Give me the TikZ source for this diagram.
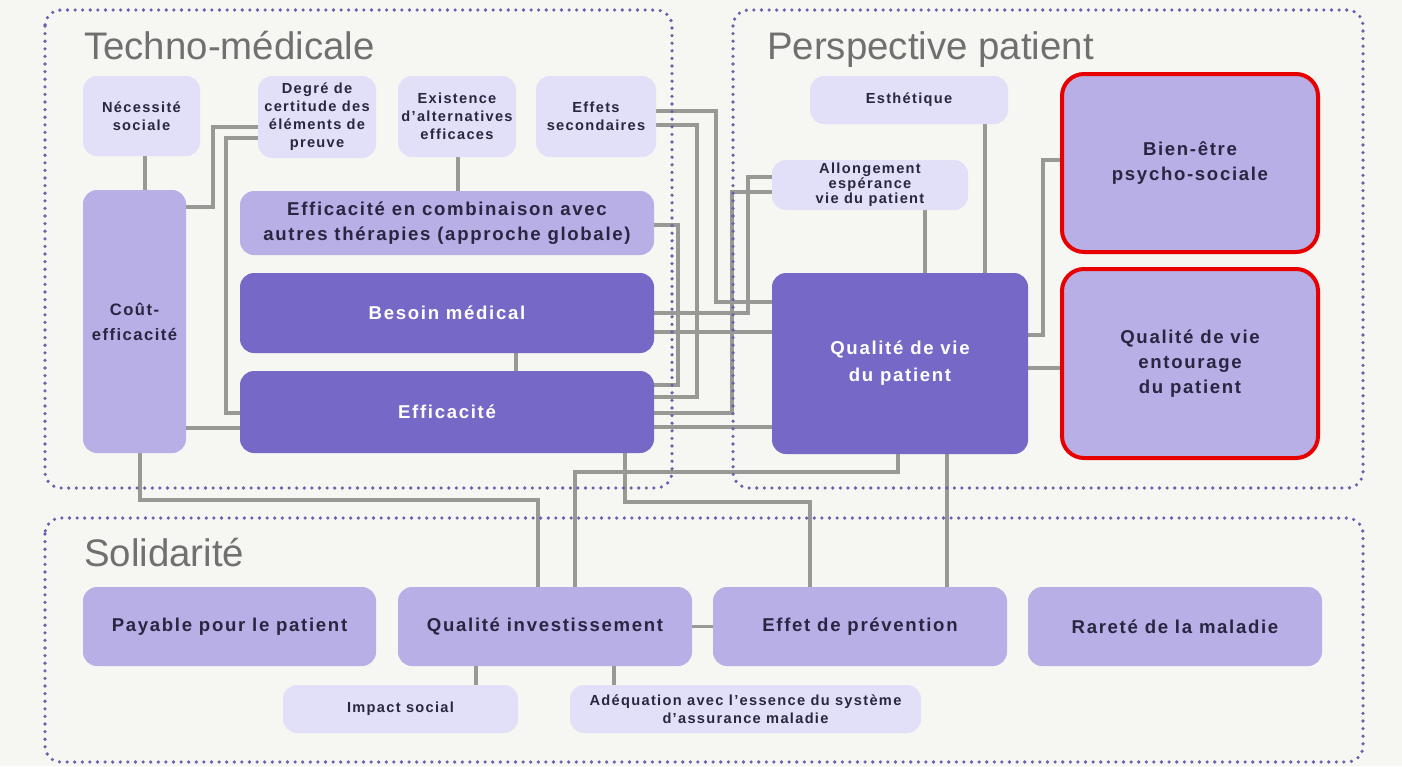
\documentclass[tikz,border=0pt]{standalone}
\usepackage{fontspec}
\setmainfont{Liberation Sans}
\newfontfamily\lblfont[LetterSpace=9]{Liberation Sans}
\usetikzlibrary{backgrounds}

\definecolor{bgcol}{RGB}{246,246,242}
\definecolor{darkbox}{RGB}{118,104,198}
\definecolor{midbox}{RGB}{184,175,231}
\definecolor{lightbox}{RGB}{226,223,249}
\definecolor{linkgrey}{RGB}{152,152,148}
\definecolor{dotcol}{RGB}{104,98,176}
\definecolor{txt}{RGB}{40,38,64}
\definecolor{titlegrey}{RGB}{112,112,112}
\definecolor{alertred}{RGB}{232,0,0}

\tikzset{
  box/.style={rounded corners=14pt, inner sep=0pt, align=center, text=txt},
  lightnode/.style={box, fill=lightbox,
    font={\lblfont\bfseries\fontsize{14.6}{18}\selectfont}},
  midnode/.style={box, fill=midbox,
    font={\lblfont\bfseries\fontsize{18.6}{25}\selectfont}},
  darknode/.style={box, fill=darkbox, text=white,
    font={\lblfont\bfseries\fontsize{18.6}{27}\selectfont}},
  alert/.style={draw=alertred, line width=4pt, rounded corners=22pt},
  conn/.style={draw=linkgrey, line width=3.5pt},
  section/.style={draw=dotcol, line width=3.6pt, line cap=round,
    dash pattern=on 0pt off 7.6pt, rounded corners=16pt},
  sectitle/.style={anchor=base west, inner sep=0pt, text=titlegrey,
    font={\fontsize{38.4}{42}\selectfont}},
}

\begin{document}
\begin{tikzpicture}[x=1pt, y=-1pt]
\useasboundingbox (0,0) rectangle (1402,766);

% ---- nodes: techno-médicale
\node[lightnode, minimum width=117pt, minimum height=80pt] (nec) at (141.5,116) {Nécessité\\sociale};
\node[lightnode, minimum width=118pt, minimum height=82pt] (degre) at (317,117) {Degré de\\certitude des\\éléments de\\preuve};
\node[lightnode, minimum width=118pt, minimum height=81pt] (exist) at (457,116.5) {Existence\\d’alternatives\\efficaces};
\node[lightnode, minimum width=120pt, minimum height=81pt] (effets) at (596,116.5) {Effets\\secondaires};
\node[midnode, minimum width=103pt, minimum height=263pt,
  font={\lblfont\bfseries\fontsize{16.6}{25}\selectfont}] (cout) at (134.5,321.5) {Coût-\\efficacité};
\node[midnode, minimum width=414pt, minimum height=64pt] (combi) at (447,223) {Efficacité en combinaison avec\\autres thérapies (approche globale)};
\node[darknode, minimum width=414pt, minimum height=80pt] (besoin) at (447,313) {Besoin médical};
\node[darknode, minimum width=414pt, minimum height=82pt] (effic) at (447,412) {Efficacité};

% ---- nodes: perspective patient
\node[lightnode, minimum width=198pt, minimum height=48pt] (esth) at (909,100) {Esthétique};
\node[lightnode, minimum width=196pt, minimum height=50pt,
  font={\lblfont\bfseries\fontsize{14.6}{15}\selectfont}] (allong) at (870,185) {Allongement\\espérance\\vie du patient};
\node[darknode, minimum width=256pt, minimum height=181pt] (qdv) at (900,363.5) {Qualité de vie\\du patient};
\node[midnode, alert, minimum width=256pt, minimum height=178pt] (bien) at (1190,163) {Bien-être\\psycho-sociale};
\node[midnode, alert, minimum width=256pt, minimum height=189pt] (entour) at (1190,363.5) {Qualité de vie\\entourage\\du patient};

% ---- nodes: solidarité
\node[midnode, minimum width=293pt, minimum height=79pt] (payable) at (229.5,626.5) {Payable pour le patient};
\node[midnode, minimum width=294pt, minimum height=79pt] (qinv) at (545,626.5) {Qualité investissement};
\node[midnode, minimum width=294pt, minimum height=79pt] (prev) at (860,626.5) {Effet de prévention};
\node[midnode, minimum width=294pt, minimum height=79pt] (rare) at (1175,626.5) {Rareté de la maladie};
\node[lightnode, minimum width=235pt, minimum height=48pt] (impact) at (400.5,709) {Impact social};
\node[lightnode, minimum width=351pt, minimum height=48pt] (adeq) at (745.5,709) {Adéquation avec l’essence du système\\d’assurance maladie};

% ---- canvas and connectors, kept behind the boxes
\begin{pgfonlayer}{background}
\fill[bgcol] (0,0) rectangle (1402,766);
\draw[conn] (nec.south -| 145,0) -- (cout.north -| 145,0);
\draw[conn] (cout.east |- 0,207) -- (213,207) -- (213,127) -- (degre.west |- 0,127);
\draw[conn] (degre.west |- 0,138) -- (226,138) -- (226,413) -- (effic.west |- 0,413);
\draw[conn] (cout.east |- 0,428) -- (effic.west |- 0,428);
\draw[conn] (cout.south -| 140,0) -- (140,500) -- (538,500) -- (qinv.north -| 538,0);
\draw[conn] (exist.south -| 458,0) -- (combi.north -| 458,0);
\draw[conn] (besoin.south -| 516,0) -- (effic.north -| 516,0);
\draw[conn] (combi.east |- 0,225) -- (678,225) -- (678,385) -- (effic.east |- 0,385);
\draw[conn] (effets.east |- 0,125) -- (697,125) -- (697,397) -- (effic.east |- 0,397);
\draw[conn] (effets.east |- 0,111) -- (716,111) -- (716,302) -- (qdv.west |- 0,302);
\draw[conn] (allong.west |- 0,177) -- (748,177) -- (748,313) -- (besoin.east |- 0,313);
\draw[conn] (allong.west |- 0,192) -- (732,192) -- (732,413) -- (effic.east |- 0,413);
\draw[conn] (besoin.east |- 0,332) -- (qdv.west |- 0,332);
\draw[conn] (effic.east |- 0,427) -- (qdv.west |- 0,427);
\draw[conn] (allong.south -| 925,0) -- (qdv.north -| 925,0);
\draw[conn] (esth.south -| 985,0) -- (qdv.north -| 985,0);
\draw[conn] (qdv.east |- 0,335) -- (1043,335) -- (1043,160) -- (bien.west |- 0,160);
\draw[conn] (qdv.east |- 0,368) -- (entour.west |- 0,368);
\draw[conn] (qdv.south -| 898,0) -- (898,472) -- (575,472) -- (qinv.north -| 575,0);
\draw[conn] (effic.south -| 625,0) -- (625,502) -- (810,502) -- (prev.north -| 810,0);
\draw[conn] (qdv.south -| 947,0) -- (prev.north -| 947,0);
\draw[conn] (qinv.east) -- (prev.west);
\draw[conn] (qinv.south -| 476,0) -- (impact.north -| 476,0);
\draw[conn] (qinv.south -| 614,0) -- (adeq.north -| 614,0);
\end{pgfonlayer}

% ---- dotted section frames and titles
\draw[section] (45,10) rectangle (672,488);
\draw[section] (733,10) rectangle (1363,488);
\draw[section] (45,518) rectangle (1363,762);
\node[sectitle] (t1) at (84,59) {Techno-médicale};
\node[sectitle] (t2) at (767,59) {Perspective patient};
\node[sectitle] (t3) at (84,566) {Solidarité};
\end{tikzpicture}
\end{document}
